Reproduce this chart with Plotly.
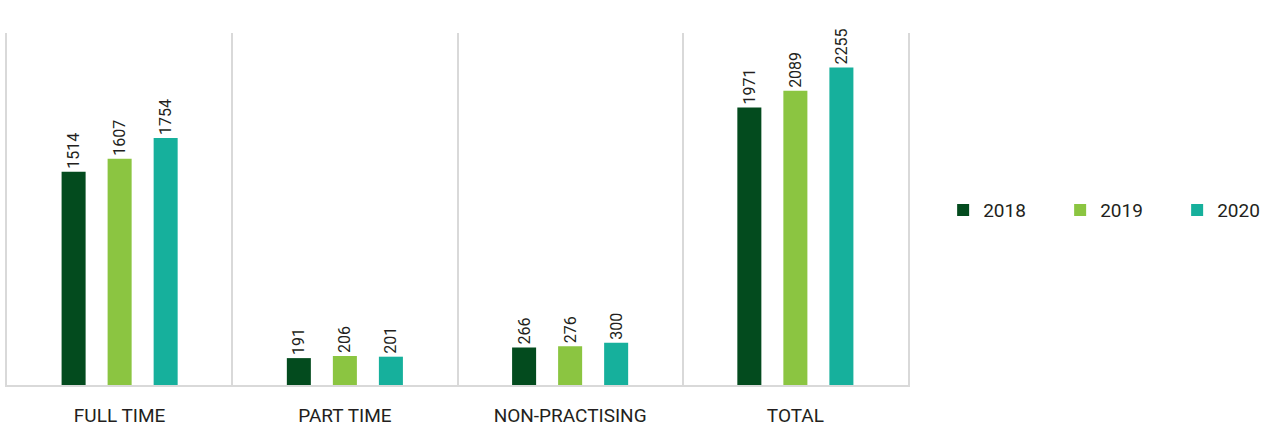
import plotly.graph_objects as go

categories = ["FULL TIME", "PART TIME", "NON-PRACTISING", "TOTAL"]
years = ["2018", "2019", "2020"]
values_2018 = [1514, 191, 266, 1971]
values_2019 = [1607, 206, 276, 2089]
values_2020 = [1754, 201, 300, 2255]
colors = ["#034b1e", "#8bc541", "#16b09c"]

series = [values_2018, values_2019, values_2020]

fig = go.Figure()
for name, vals, col in zip(years, series, colors):
    fig.add_trace(go.Bar(
        name=name, x=categories, y=vals, marker_color=col,
        marker_line_width=0,
        text=[str(v) for v in vals], textposition="outside", textangle=-90,
        constraintext="none",
        textfont=dict(family="Roboto", size=16, color="#231f20"),
        cliponaxis=False,
    ))

fig.update_layout(
    width=1267, height=426,
    margin=dict(l=7, r=359, t=33, b=41, autoexpand=False),
    paper_bgcolor="white", plot_bgcolor="white",
    barmode="group", bargap=0.387, bargroupgap=0.478,
    font=dict(family="Roboto", color="#231f20"),
    legend=dict(orientation="h", x=1.039, y=0.497, xanchor="left", yanchor="middle",
                font=dict(size=19, color="#231f20"), entrywidth=72,
                itemwidth=30),
    showlegend=True,
)
fig.update_xaxes(
    tickson="boundaries", showgrid=True, gridcolor="#d9d9d9", gridwidth=2,
    showline=True, linecolor="#d9d9d9", linewidth=2, mirror=False,
    ticks="", tickfont=dict(size=19, family="Roboto", color="#231f20"),
    ticklabelstandoff=12,
)
fig.update_yaxes(range=[0, 2500], showgrid=False, showticklabels=False,
                 zeroline=False, showline=True, linecolor="#d9d9d9", linewidth=2,
                 mirror=True)

fig.write_html("out.html", config={"displayModeBar": False},
               post_script="document.body.style.margin='0';")
